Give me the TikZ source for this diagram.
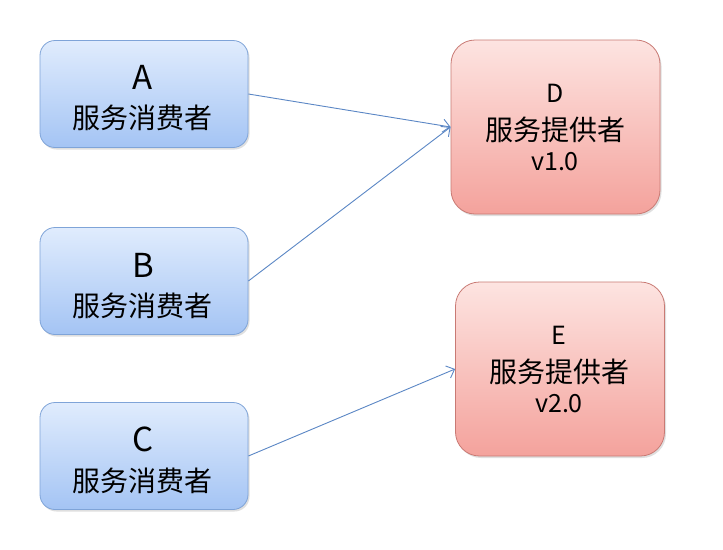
\documentclass[tikz,border=0pt]{standalone}
\usepackage{fontspec}
\setmainfont{Noto Sans CJK SC}
\usetikzlibrary{arrows.meta,shadows}
\definecolor{bluetop}{HTML}{E0ECFD}
\definecolor{bluebot}{HTML}{A4C4F4}
\definecolor{blueedge}{HTML}{7FA4D8}
\definecolor{redtop}{HTML}{FDE4E1}
\definecolor{redbot}{HTML}{F4A29C}
\definecolor{rededge}{HTML}{C97A74}
\definecolor{arrowc}{HTML}{5B87C5}
\tikzset{
  x=1pt, y=-1pt,
  box/.style={line width=0.8pt,
    drop shadow={shadow xshift=1.5pt, shadow yshift=-2pt, opacity=0.25, fill=gray}},
  consumer/.style={box, rounded corners=15pt, draw=blueedge, top color=bluetop, bottom color=bluebot,
    minimum width=208pt, minimum height=107pt},
  provider/.style={box, rounded corners=24pt, draw=rededge, top color=redtop, bottom color=redbot,
    minimum width=209pt, minimum height=174pt},
  conn/.style={draw=arrowc, line width=0.9pt, -{Straight Barb[length=7pt,width=13pt,line width=0.9pt]}},
  letter/.style={inner sep=0pt, font=\fontsize{33}{36}\selectfont},
  cn/.style={inner sep=0pt, font=\fontsize{28}{32}\selectfont},
  small/.style={inner sep=0pt, font=\fontsize{25}{30}\selectfont},
}
\begin{document}
\begin{tikzpicture}
\fill[white] (0,0) rectangle (723,549);
\useasboundingbox (0,0) rectangle (723,549);
\node[consumer] (A) at (144,94) {};
\node[consumer] (B) at (144,281) {};
\node[consumer] (C) at (144,456) {};
\node[provider] (D) at (555.5,127) {};
\node[provider] (E) at (560,369) {};
\node[letter] (At) at (143,77) {A};
\node[cn] (Ac) at (142,118) {服务消费者};
\node[letter] (Bt) at (143,265) {B};
\node[cn] (Bc) at (142,306) {服务消费者};
\node[letter] (Ct) at (143,439) {C};
\node[cn] (Cc) at (142,481) {服务消费者};
\node[small] (Dt) at (555,93) {D};
\node[cn] (Dc) at (555,130) {服务提供者};
\node[small] (Dv) at (555,162) {v1.0};
\node[small] (Et) at (559,335) {E};
\node[cn] (Ec) at (559,372) {服务提供者};
\node[small] (Ev) at (559,404) {v2.0};
\draw[conn] (A.east) -- (D.west);
\draw[conn] (B.east) -- (D.west);
\draw[conn] (C.east) -- (E.west);
\end{tikzpicture}
\end{document}
